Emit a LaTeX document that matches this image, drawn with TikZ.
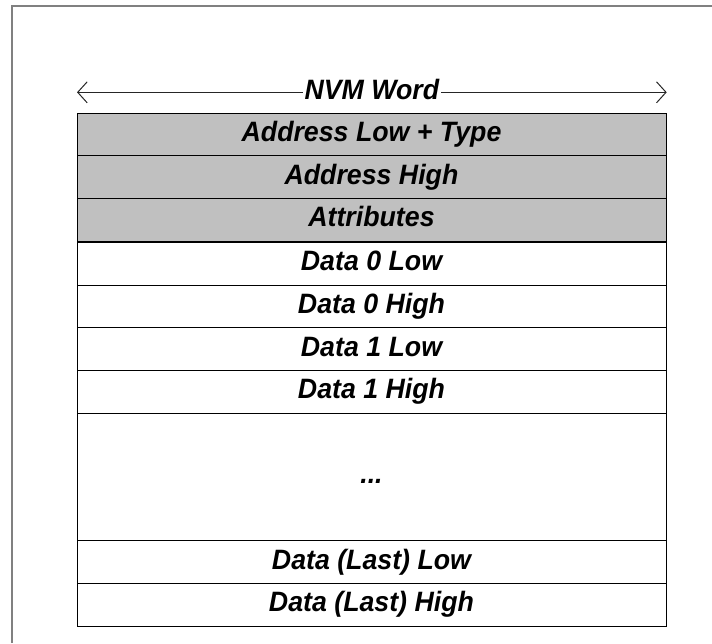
\documentclass[tikz,border=0pt]{standalone}
\usepackage{fontspec}
\setmainfont{Liberation Sans}
\newfontfamily\wordfont[FakeStretch=0.955]{Liberation Sans}
\usetikzlibrary{shapes,arrows.meta,positioning}

\definecolor{hdrgray}{HTML}{C0C0C0}
\definecolor{framegray}{HTML}{808080}

\begin{document}
\begin{tikzpicture}[
  x=1pt, y=-1pt,
  node distance=0pt,
  field/.style={
    rectangle,
    draw=black,
    line width=1pt,
    minimum width=589pt,
    minimum height=42.6pt,
    inner sep=0pt,
    outer sep=0pt,
    text height=20pt,
    text depth=6pt,
    font=\wordfont\fontsize{28}{32}\selectfont\bfseries\itshape,
    align=center
  },
  hdr/.style={field, fill=hdrgray},
  wordspan/.style={{Straight Barb[length=9.5pt,width=21pt]}-{Straight Barb[length=9.5pt,width=21pt]}, line width=1pt, draw=black!85}
]

\useasboundingbox (0,0) rectangle (712,643);
\draw[framegray, line width=1.5pt] (12,643) -- (12,6) -- (712,6);

% width of one word
\coordinate (wl) at (77,92.3);
\coordinate (wr) at (666.7,92.3);
\draw[wordspan] (wl) -- node[fill=white, inner xsep=2pt, inner ysep=0pt, text height=20pt, text depth=6pt, font=\wordfont\fontsize{28}{32}\selectfont\bfseries\itshape] (word) {NVM Word} (wr);

% header words
\node[hdr, anchor=north] (addrlo) at (371.5,113.3) {Address Low + Type};
\node[hdr, below=of addrlo] (addrhi) {Address High};
\node[hdr, below=of addrhi] (attr) {Attributes};

% data words
\node[field, below=1.5pt of attr] (d0lo) {Data 0 Low};
\node[field, below=of d0lo] (d0hi) {Data 0 High};
\node[field, below=of d0hi] (d1lo) {Data 1 Low};
\node[field, below=of d1lo] (d1hi) {Data 1 High};
\node[field, minimum height=127.8pt, below=of d1hi] (dots) {...};
\node[field, below=of dots] (dnlo) {Data (Last) Low};
\node[field, below=of dnlo] (dnhi) {Data (Last) High};

\end{tikzpicture}
\end{document}
